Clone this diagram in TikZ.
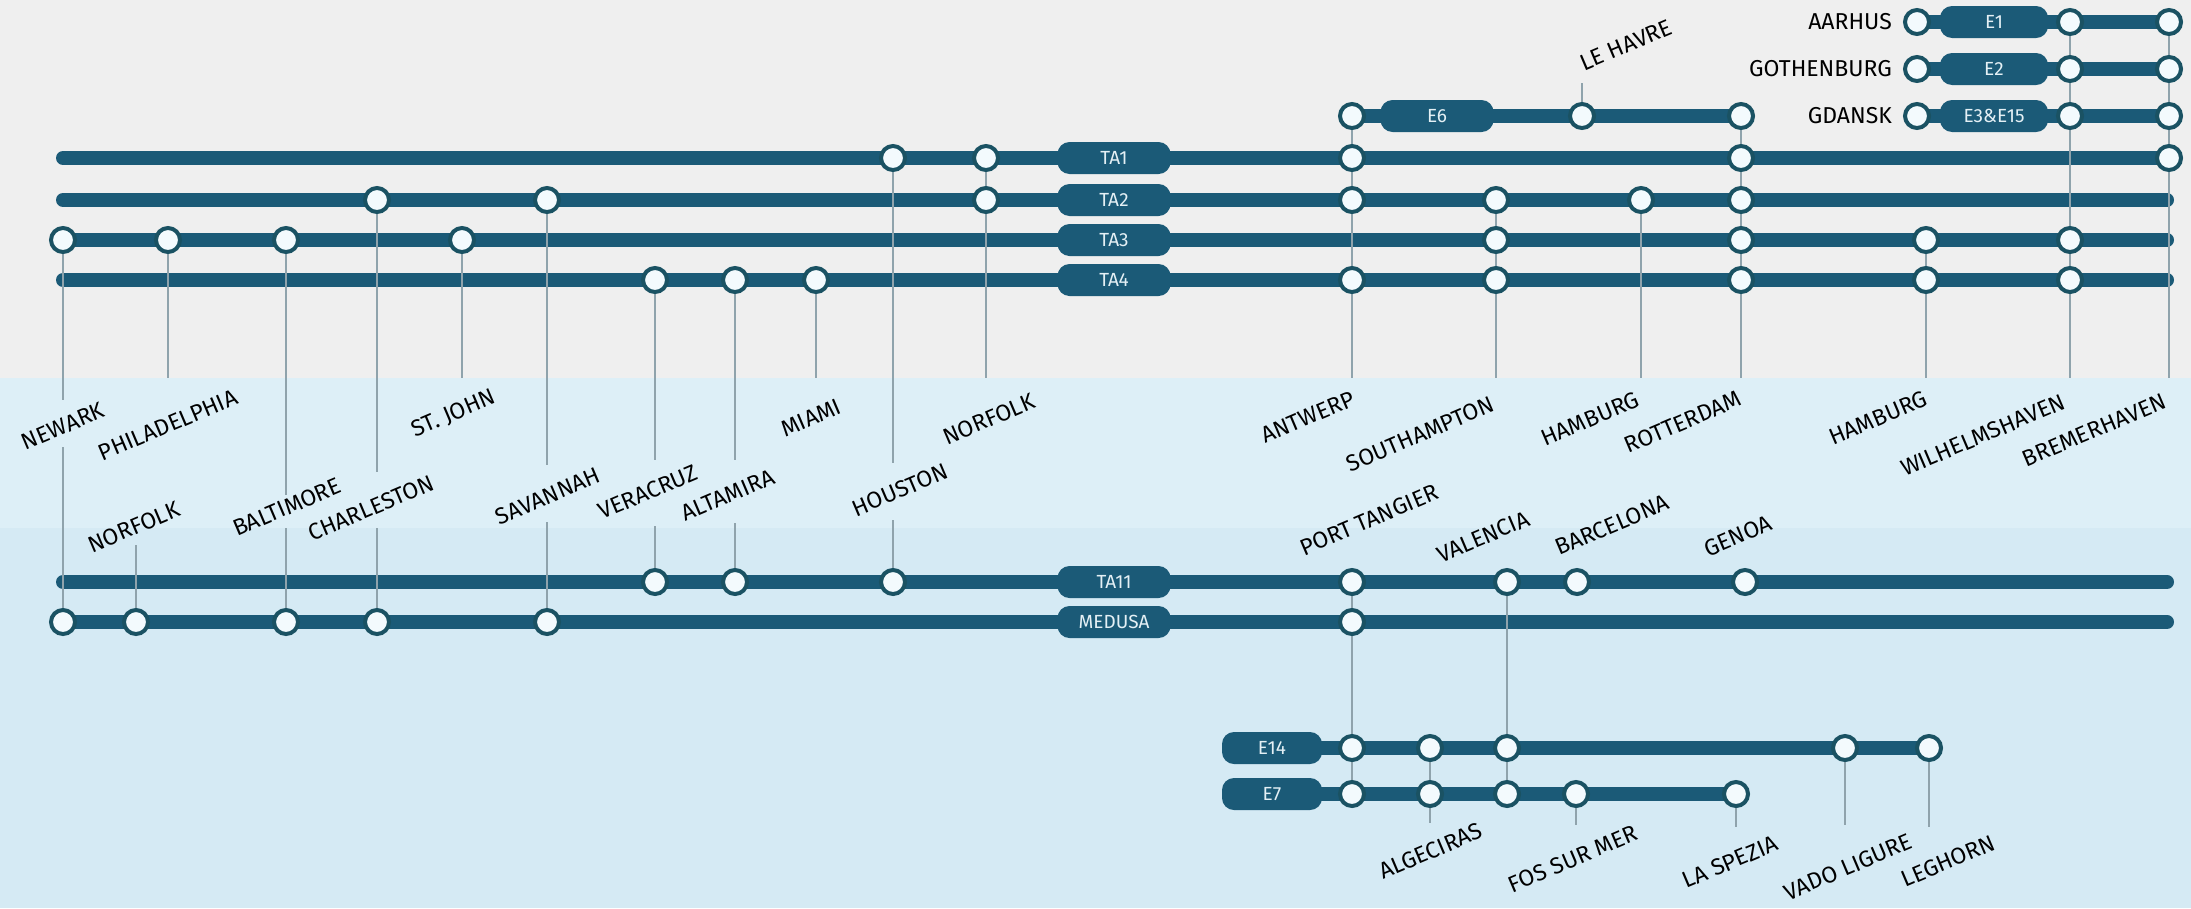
\documentclass[tikz,border=0pt]{standalone}
\usepackage{fontspec}
\setmainfont{Fira Sans}
\definecolor{routec}{HTML}{1B5A77}
\definecolor{stnc}{HTML}{1A5263}
\definecolor{stnfill}{HTML}{F3FAFD}
\definecolor{connc}{HTML}{8FA3AC}
\definecolor{topbg}{HTML}{EFEFEF}
\definecolor{bluebg}{HTML}{D5EAF4}
\definecolor{bandbg}{HTML}{DDEFF7}
\definecolor{pilltext}{HTML}{E4F0F5}
\tikzset{
  route/.style={line width=14pt, draw=routec, line cap=round},
  stn/.style={circle, draw=stnc, line width=4pt, fill=stnfill, minimum size=24pt, inner sep=0pt},
  pill/.style={fill=routec, rounded corners=12pt, minimum height=32pt, minimum width=113pt, text=pilltext, font=\fontsize{19}{22}\selectfont, inner sep=0pt},
  conn/.style={draw=connc, line width=1.8pt},
  lab/.style={font=\fontsize{23}{27}\selectfont, inner sep=0pt},
  hlab/.style={font=\fontsize{23}{27}\selectfont, inner sep=0pt, anchor=east},
}
\newcommand\rlabel[4]{\begin{scope}[rotate around={23:(#2,#3)}]\node[lab, transform shape] (#1) at (#2,#3) {#4};\end{scope}}
\begin{document}
\begin{tikzpicture}[x=1pt,y=1pt]
\useasboundingbox (0,0) rectangle (2191,-908);
\fill[topbg] (0,0) rectangle (2191,-378);
\fill[bluebg] (0,-378) rectangle (2191,-908);
\fill[bandbg] (0,-378) rectangle (2191,-528);

% ---------- station positions ----------
\coordinate (t1hou) at (893,-158);
\coordinate (t1nor) at (986,-158);
\coordinate (t1ant) at (1352,-158);
\coordinate (t1rot) at (1741,-158);
\coordinate (t1bre) at (2169,-158);
\coordinate (t2cha) at (377,-200);
\coordinate (t2sav) at (547,-200);
\coordinate (t2nor) at (986,-200);
\coordinate (t2ant) at (1352,-200);
\coordinate (t2sou) at (1496,-200);
\coordinate (t2ham) at (1641,-200);
\coordinate (t2rot) at (1741,-200);
\coordinate (t3new) at (63,-240);
\coordinate (t3phi) at (168,-240);
\coordinate (t3bal) at (286,-240);
\coordinate (t3stj) at (462,-240);
\coordinate (t3sou) at (1496,-240);
\coordinate (t3rot) at (1741,-240);
\coordinate (t3ham) at (1926,-240);
\coordinate (t3wil) at (2070,-240);
\coordinate (t4ver) at (655,-280);
\coordinate (t4alt) at (735,-280);
\coordinate (t4mia) at (816,-280);
\coordinate (t4ant) at (1352,-280);
\coordinate (t4sou) at (1496,-280);
\coordinate (t4rot) at (1741,-280);
\coordinate (t4ham) at (1926,-280);
\coordinate (t4wil) at (2070,-280);
\coordinate (e6ant) at (1352,-116);
\coordinate (e6leh) at (1582,-116);
\coordinate (e6rot) at (1741,-116);
\coordinate (e1aar) at (1917,-22);
\coordinate (e1wil) at (2070,-22);
\coordinate (e1bre) at (2169,-22);
\coordinate (e2got) at (1917,-69);
\coordinate (e2wil) at (2070,-69);
\coordinate (e2bre) at (2169,-69);
\coordinate (e3gda) at (1917,-116);
\coordinate (e3wil) at (2070,-116);
\coordinate (e3bre) at (2169,-116);
\coordinate (t11ver) at (655,-582);
\coordinate (t11alt) at (735,-582);
\coordinate (t11hou) at (893,-582);
\coordinate (t11pt) at (1352,-582);
\coordinate (t11val) at (1507,-582);
\coordinate (t11bar) at (1577,-582);
\coordinate (t11gen) at (1745,-582);
\coordinate (mnew) at (63,-622);
\coordinate (mnor) at (136,-622);
\coordinate (mbal) at (286,-622);
\coordinate (mcha) at (377,-622);
\coordinate (msav) at (547,-622);
\coordinate (mpt) at (1352,-622);
\coordinate (e14pt) at (1352,-748);
\coordinate (e14alg) at (1430,-748);
\coordinate (e14val) at (1507,-748);
\coordinate (e14vad) at (1845,-748);
\coordinate (e14leg) at (1929,-748);
\coordinate (e7pt) at (1352,-794);
\coordinate (e7alg) at (1430,-794);
\coordinate (e7val) at (1507,-794);
\coordinate (e7fos) at (1576,-794);
\coordinate (e7las) at (1736,-794);

% ---------- route ends ----------
\coordinate (r1a) at (63,-158);
\coordinate (r2a) at (63,-200);  \coordinate (r2b) at (2167,-200);
\coordinate (r3b) at (2167,-240);
\coordinate (r4a) at (63,-280);  \coordinate (r4b) at (2167,-280);
\coordinate (r11a) at (63,-582); \coordinate (r11b) at (2167,-582);
\coordinate (rmb) at (2167,-622);
\coordinate (re14) at (1240,-748);
\coordinate (re7) at (1240,-794);

% ---------- routes ----------
\draw[route] (r1a) -- (t1bre);
\draw[route] (r2a) -- (r2b);
\draw[route] (t3new) -- (r3b);
\draw[route] (r4a) -- (r4b);
\draw[route] (r11a) -- (r11b);
\draw[route] (mnew) -- (rmb);
\draw[route] (e6ant) -- (e6rot);
\draw[route] (e1aar) -- (e1bre);
\draw[route] (e2got) -- (e2bre);
\draw[route] (e3gda) -- (e3bre);
\draw[route] (re14) -- (e14leg);
\draw[route] (re7) -- (e7las);

% ---------- connector ends ----------
\coordinate (gNewT) at (63,-400);  \coordinate (gNewB) at (63,-447);
\coordinate (cPhi) at (168,-378);
\coordinate (gBalT) at (286,-495); \coordinate (gBalB) at (286,-528);
\coordinate (gChaT) at (377,-472); \coordinate (gChaB) at (377,-528);
\coordinate (cStj) at (462,-378);
\coordinate (gSavT) at (547,-465); \coordinate (gSavB) at (547,-522);
\coordinate (gVerT) at (655,-460); \coordinate (gVerB) at (655,-526);
\coordinate (gAltT) at (735,-460); \coordinate (gAltB) at (735,-523);
\coordinate (cMia) at (816,-378);
\coordinate (gHouT) at (893,-463); \coordinate (gHouB) at (893,-520);
\coordinate (cNor) at (986,-378);
\coordinate (cAnt) at (1352,-378);
\coordinate (cSou) at (1496,-378);
\coordinate (cHam) at (1641,-378);
\coordinate (cRot) at (1741,-378);
\coordinate (cHamb) at (1926,-378);
\coordinate (cWil) at (2070,-378);
\coordinate (cBre) at (2169,-378);
\coordinate (cLeh) at (1582,-83);
\coordinate (cNorL) at (136,-545);
\coordinate (cAlg) at (1430,-823);
\coordinate (cFos) at (1576,-825);
\coordinate (cLas) at (1736,-827);
\coordinate (cVad) at (1845,-825);
\coordinate (cLeg) at (1929,-827);

% ---------- connectors ----------
\draw[conn] (t3new) -- (gNewT);  \draw[conn] (gNewB) -- (mnew);
\draw[conn] (t3phi) -- (cPhi);
\draw[conn] (t3bal) -- (gBalT);  \draw[conn] (gBalB) -- (mbal);
\draw[conn] (t2cha) -- (gChaT);  \draw[conn] (gChaB) -- (mcha);
\draw[conn] (t3stj) -- (cStj);
\draw[conn] (t2sav) -- (gSavT);  \draw[conn] (gSavB) -- (msav);
\draw[conn] (t4ver) -- (gVerT);  \draw[conn] (gVerB) -- (t11ver);
\draw[conn] (t4alt) -- (gAltT);  \draw[conn] (gAltB) -- (t11alt);
\draw[conn] (t4mia) -- (cMia);
\draw[conn] (t1hou) -- (gHouT);  \draw[conn] (gHouB) -- (t11hou);
\draw[conn] (t1nor) -- (cNor);
\draw[conn] (e6ant) -- (cAnt);
\draw[conn] (t2sou) -- (cSou);
\draw[conn] (t2ham) -- (cHam);
\draw[conn] (e6rot) -- (cRot);
\draw[conn] (t3ham) -- (cHamb);
\draw[conn] (e1wil) -- (cWil);
\draw[conn] (e1bre) -- (cBre);
\draw[conn] (e6leh) -- (cLeh);
\draw[conn] (mnor) -- (cNorL);
\draw[conn] (t11pt) -- (e7pt);
\draw[conn] (t11val) -- (e7val);
\draw[conn] (e14alg) -- (cAlg);
\draw[conn] (e7fos) -- (cFos);
\draw[conn] (e7las) -- (cLas);
\draw[conn] (e14vad) -- (cVad);
\draw[conn] (e14leg) -- (cLeg);

% ---------- station circles ----------
\foreach \s in {t1hou,t1nor,t1ant,t1rot,t1bre,
  t2cha,t2sav,t2nor,t2ant,t2sou,t2ham,t2rot,
  t3new,t3phi,t3bal,t3stj,t3sou,t3rot,t3ham,t3wil,
  t4ver,t4alt,t4mia,t4ant,t4sou,t4rot,t4ham,t4wil,
  e6ant,e6leh,e6rot,e1aar,e1wil,e1bre,e2got,e2wil,e2bre,e3gda,e3wil,e3bre,
  t11ver,t11alt,t11hou,t11pt,t11val,t11bar,t11gen,
  mnew,mnor,mbal,mcha,msav,mpt,
  e14pt,e14alg,e14val,e14vad,e14leg,
  e7pt,e7alg,e7val,e7fos,e7las}
  {\node[stn] (\s-c) at (\s) {};}

% ---------- pills ----------
\node[pill] (p1) at (1114,-158) {TA1};
\node[pill] (p2) at (1114,-200) {TA2};
\node[pill] (p3) at (1114,-240) {TA3};
\node[pill] (p4) at (1114,-280) {TA4};
\node[pill] (p11) at (1114,-582) {TA11};
\node[pill] (pmed) at (1114,-622) {MEDUSA};
\node[pill] (pe6) at (1437,-116) {E6};
\node[pill, minimum width=108pt] (pe1) at (1994,-22) {E1};
\node[pill, minimum width=108pt] (pe2) at (1994,-69) {E2};
\node[pill, minimum width=108pt] (pe3) at (1994,-116) {E3\&E15};
\node[pill, minimum width=100pt] (pe14) at (1272,-748) {E14};
\node[pill, minimum width=100pt] (pe7) at (1272,-794) {E7};

% ---------- labels ----------
\node[hlab] (lAar) at (1892,-22) {AARHUS};
\node[hlab] (lGot) at (1892,-69) {GOTHENBURG};
\node[hlab] (lGda) at (1892,-116) {GDANSK};
\rlabel{lLeh}{1626}{-45}{LE HAVRE}
\rlabel{lNew}{63}{-426}{NEWARK}
\rlabel{lPhi}{168}{-425}{PHILADELPHIA}
\rlabel{lStj}{454}{-414}{ST. JOHN}
\rlabel{lMia}{811}{-418}{MIAMI}
\rlabel{lNor}{989}{-419}{NORFOLK}
\rlabel{lAnt}{1308}{-417}{ANTWERP}
\rlabel{lSou}{1420}{-434}{SOUTHAMPTON}
\rlabel{lHam}{1590}{-419}{HAMBURG}
\rlabel{lRot}{1683}{-422}{ROTTERDAM}
\rlabel{lHamb}{1878}{-418}{HAMBURG}
\rlabel{lWil}{1983}{-435}{WILHELMSHAVEN}
\rlabel{lBre}{2094}{-430}{BREMERHAVEN}
\rlabel{lNorL}{134}{-527}{NORFOLK}
\rlabel{lBal}{287}{-507}{BALTIMORE}
\rlabel{lCha}{371}{-508}{CHARLESTON}
\rlabel{lSav}{548}{-496}{SAVANNAH}
\rlabel{lVer}{648}{-492}{VERACRUZ}
\rlabel{lAlt}{728}{-495}{ALTAMIRA}
\rlabel{lHou}{900}{-490}{HOUSTON}
\rlabel{lPt}{1369}{-520}{PORT TANGIER}
\rlabel{lVal}{1483}{-537}{VALENCIA}
\rlabel{lBar}{1612}{-525}{BARCELONA}
\rlabel{lGen}{1738}{-536}{GENOA}
\rlabel{lAlg}{1431}{-851}{ALGECIRAS}
\rlabel{lFos}{1573}{-859}{FOS SUR MER}
\rlabel{lLas}{1730}{-862}{LA SPEZIA}
\rlabel{lVad}{1848}{-867}{VADO LIGURE}
\rlabel{lLeg}{1948}{-861}{LEGHORN}
\end{tikzpicture}
\end{document}
